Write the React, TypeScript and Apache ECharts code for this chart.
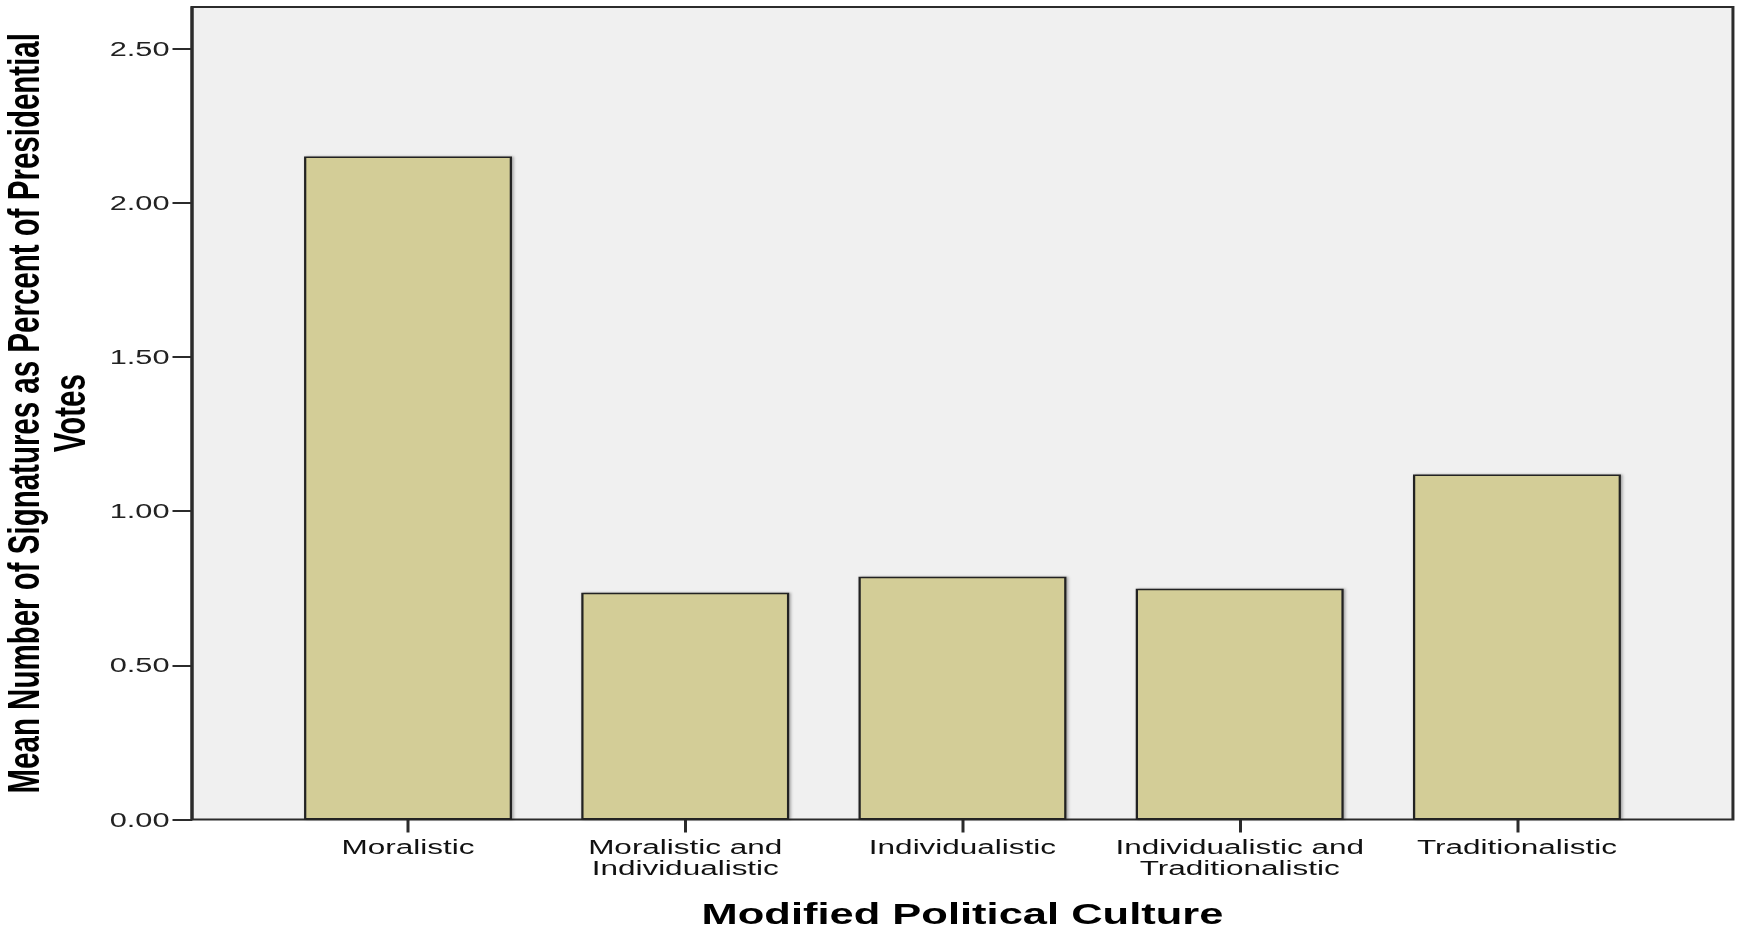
import React, { useEffect, useRef } from "react";
import * as echarts from "echarts";

// Data
const categories: string[] = [
  "Moralistic",
  "Moralistic and\nIndividualistic",
  "Individualistic",
  "Individualistic and\nTraditionalistic",
  "Traditionalistic",
];
const meanValues: number[] = [2.15, 0.735, 0.787, 0.748, 1.119];
const yTickValues: number[] = [0, 0.5, 1.0, 1.5, 2.0, 2.5];
const yAxisTitle = "Mean Number of Signatures as Percent of Presidential\nVotes";
const xAxisTitle = "Modified Political Culture";

// The original graphic is stretched horizontally; we reproduce that by
// drawing in a narrower box and scaling it along x.
const STRETCH = 1.5;
const PAGE_W = 1740;
const PAGE_H = 931;
const LOCAL_W = PAGE_W / STRETCH;

const FONT = "'Liberation Sans', Arial, sans-serif";

export default function App() {
  const ref = useRef<HTMLDivElement>(null);

  useEffect(() => {
    if (!ref.current) return;
    const chart = echarts.init(ref.current, undefined, { renderer: "svg" });
    const yMax = 2.635;
    const gridTop = 7;
    const gridBottom = PAGE_H - 819.5;

    chart.setOption({
      animation: false,
      backgroundColor: "#ffffff",
      textStyle: { fontFamily: FONT },
      grid: [
        {
          left: 128,
          right: LOCAL_W - 1155.3,
          top: gridTop,
          bottom: gridBottom,
          outerBoundsMode: "none",
          containLabel: false,
          show: true,
          backgroundColor: "#f0f0f0",
          borderColor: "#2b2b2b",
          borderWidth: 2,
        },
        {
          left: 179.6,
          right: LOCAL_W - 1103.7,
          top: gridTop,
          bottom: gridBottom,
          outerBoundsMode: "none",
          containLabel: false,
        },
      ],
      xAxis: [
        {
          gridIndex: 0,
          type: "value",
          min: 0,
          max: 1,
          axisLine: { show: false },
          axisTick: { show: false },
          axisLabel: { show: false },
          splitLine: { show: false },
          name: xAxisTitle,
          nameLocation: "middle",
          nameGap: 80,
          nameTextStyle: {
            fontFamily: FONT,
            fontSize: 29,
            fontWeight: "bold",
            color: "#000",
          },
        },
        {
          gridIndex: 1,
          type: "category",
          data: categories,
          boundaryGap: true,
          axisLine: { show: false },
          axisTick: {
            show: true,
            alignWithLabel: true,
            length: 13,
            lineStyle: { color: "#2b2b2b", width: 2 },
          },
          axisLabel: {
            interval: 0,
            margin: 17,
            fontFamily: FONT,
            fontSize: 21,
            lineHeight: 21,
            color: "#111",
          },
          splitLine: { show: false },
        },
      ],
      yAxis: [
        {
          gridIndex: 0,
          type: "value",
          min: 0,
          max: yMax,
          interval: 0.5,
          axisLine: { show: true, lineStyle: { color: "#2b2b2b", width: 2 } },
          axisTick: {
            show: true,
            length: 13,
            customValues: yTickValues,
            lineStyle: { color: "#2b2b2b", width: 2 },
          },
          axisLabel: {
            customValues: yTickValues,
            margin: 15,
            fontFamily: FONT,
            fontSize: 20.5,
            color: "#222",
            formatter: (v: number) => v.toFixed(2),
          },
          splitLine: { show: false },
          name: yAxisTitle,
          nameLocation: "middle",
          nameGap: 55,
          nameTextStyle: {
            fontFamily: FONT,
            fontSize: 29.5,
            fontWeight: "bold",
            lineHeight: 31,
            color: "#000",
            align: "center",
          },
        },
        {
          gridIndex: 1,
          type: "value",
          min: 0,
          max: yMax,
          show: false,
          splitLine: { show: false },
        },
      ],
      series: [
        {
          type: "bar",
          xAxisIndex: 1,
          yAxisIndex: 1,
          data: meanValues,
          barCategoryGap: "25%",
          itemStyle: {
            color: "#d3cd97",
            borderColor: "#222",
            borderWidth: 1.5,
            shadowColor: "rgba(0,0,0,0.35)",
            shadowBlur: 2,
            shadowOffsetX: 1,
          },
        },
      ],
    });

    return () => {
      chart.dispose();
    };
  }, []);

  return (
    <div
      style={{
        position: "absolute",
        left: 0,
        top: 0,
        width: PAGE_W,
        height: PAGE_H,
        overflow: "hidden",
        background: "#fff",
      }}
    >
      <div
        ref={ref}
        style={{
          width: LOCAL_W,
          height: PAGE_H,
          transform: `scaleX(${STRETCH})`,
          transformOrigin: "0 0",
        }}
      />
    </div>
  );
}
